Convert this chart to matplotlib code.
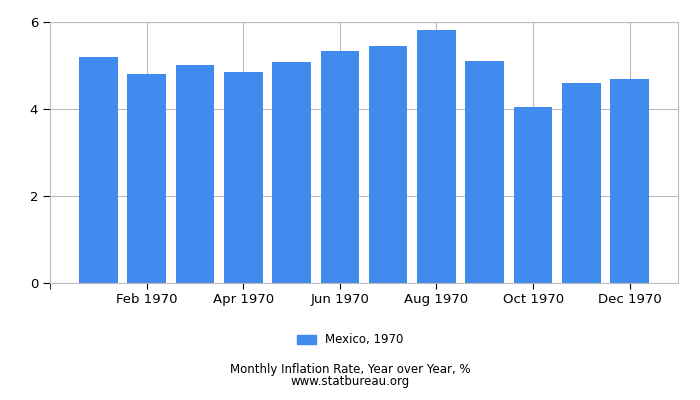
import numpy as np
import matplotlib
matplotlib.use('Agg')
import matplotlib.pyplot as plt
from matplotlib.patches import Patch

months = ['Jan 1970', 'Feb 1970', 'Mar 1970', 'Apr 1970', 'May 1970', 'Jun 1970',
          'Jul 1970', 'Aug 1970', 'Sep 1970', 'Oct 1970', 'Nov 1970', 'Dec 1970']
rates = [5.20, 4.80, 5.01, 4.85, 5.08, 5.33, 5.45, 5.82, 5.10, 4.05, 4.60, 4.69]
series_name = 'Mexico, 1970'
yticks = [0, 2, 4, 6]

bar_color = '#418bef'
grid_color = '#bbbbbb'

fig = plt.figure(figsize=(7, 4), dpi=100)
ax = fig.add_axes([50 / 700, 1 - 283 / 400, 628 / 700, 261 / 400])

x = np.arange(len(months))
ax.bar(x, rates, width=0.8, color=bar_color, zorder=2)

ax.set_xlim(-1, len(months))
ax.set_ylim(0, 6)
ax.set_yticks(yticks)
ax.set_xticks(x[1::2])
ax.set_xticklabels(months[1::2], fontsize=9.5)
ax.set_xticks([-1], minor=True)
ax.tick_params(axis='y', labelsize=9.5, length=5, color='black')
ax.tick_params(axis='x', which='both', length=4, color='black')

ax.grid(True, color=grid_color, linewidth=0.8, zorder=0)
for s in ax.spines.values():
    s.set_color(grid_color)
    s.set_linewidth(0.8)

fig.legend(handles=[Patch(color=bar_color, label=series_name)],
           loc='center', bbox_to_anchor=(0.5, 1 - 340 / 400), frameon=False,
           fontsize=8.5, handlelength=1.6, handleheight=0.7)

fig.text(0.5, 1 - 370 / 400, 'Monthly Inflation Rate, Year over Year, %',
         ha='center', va='center', fontsize=8.5)
fig.text(0.5, 1 - 382 / 400, 'www.statbureau.org', ha='center', va='center', fontsize=8.5)

fig.savefig('out.png', dpi=100)
